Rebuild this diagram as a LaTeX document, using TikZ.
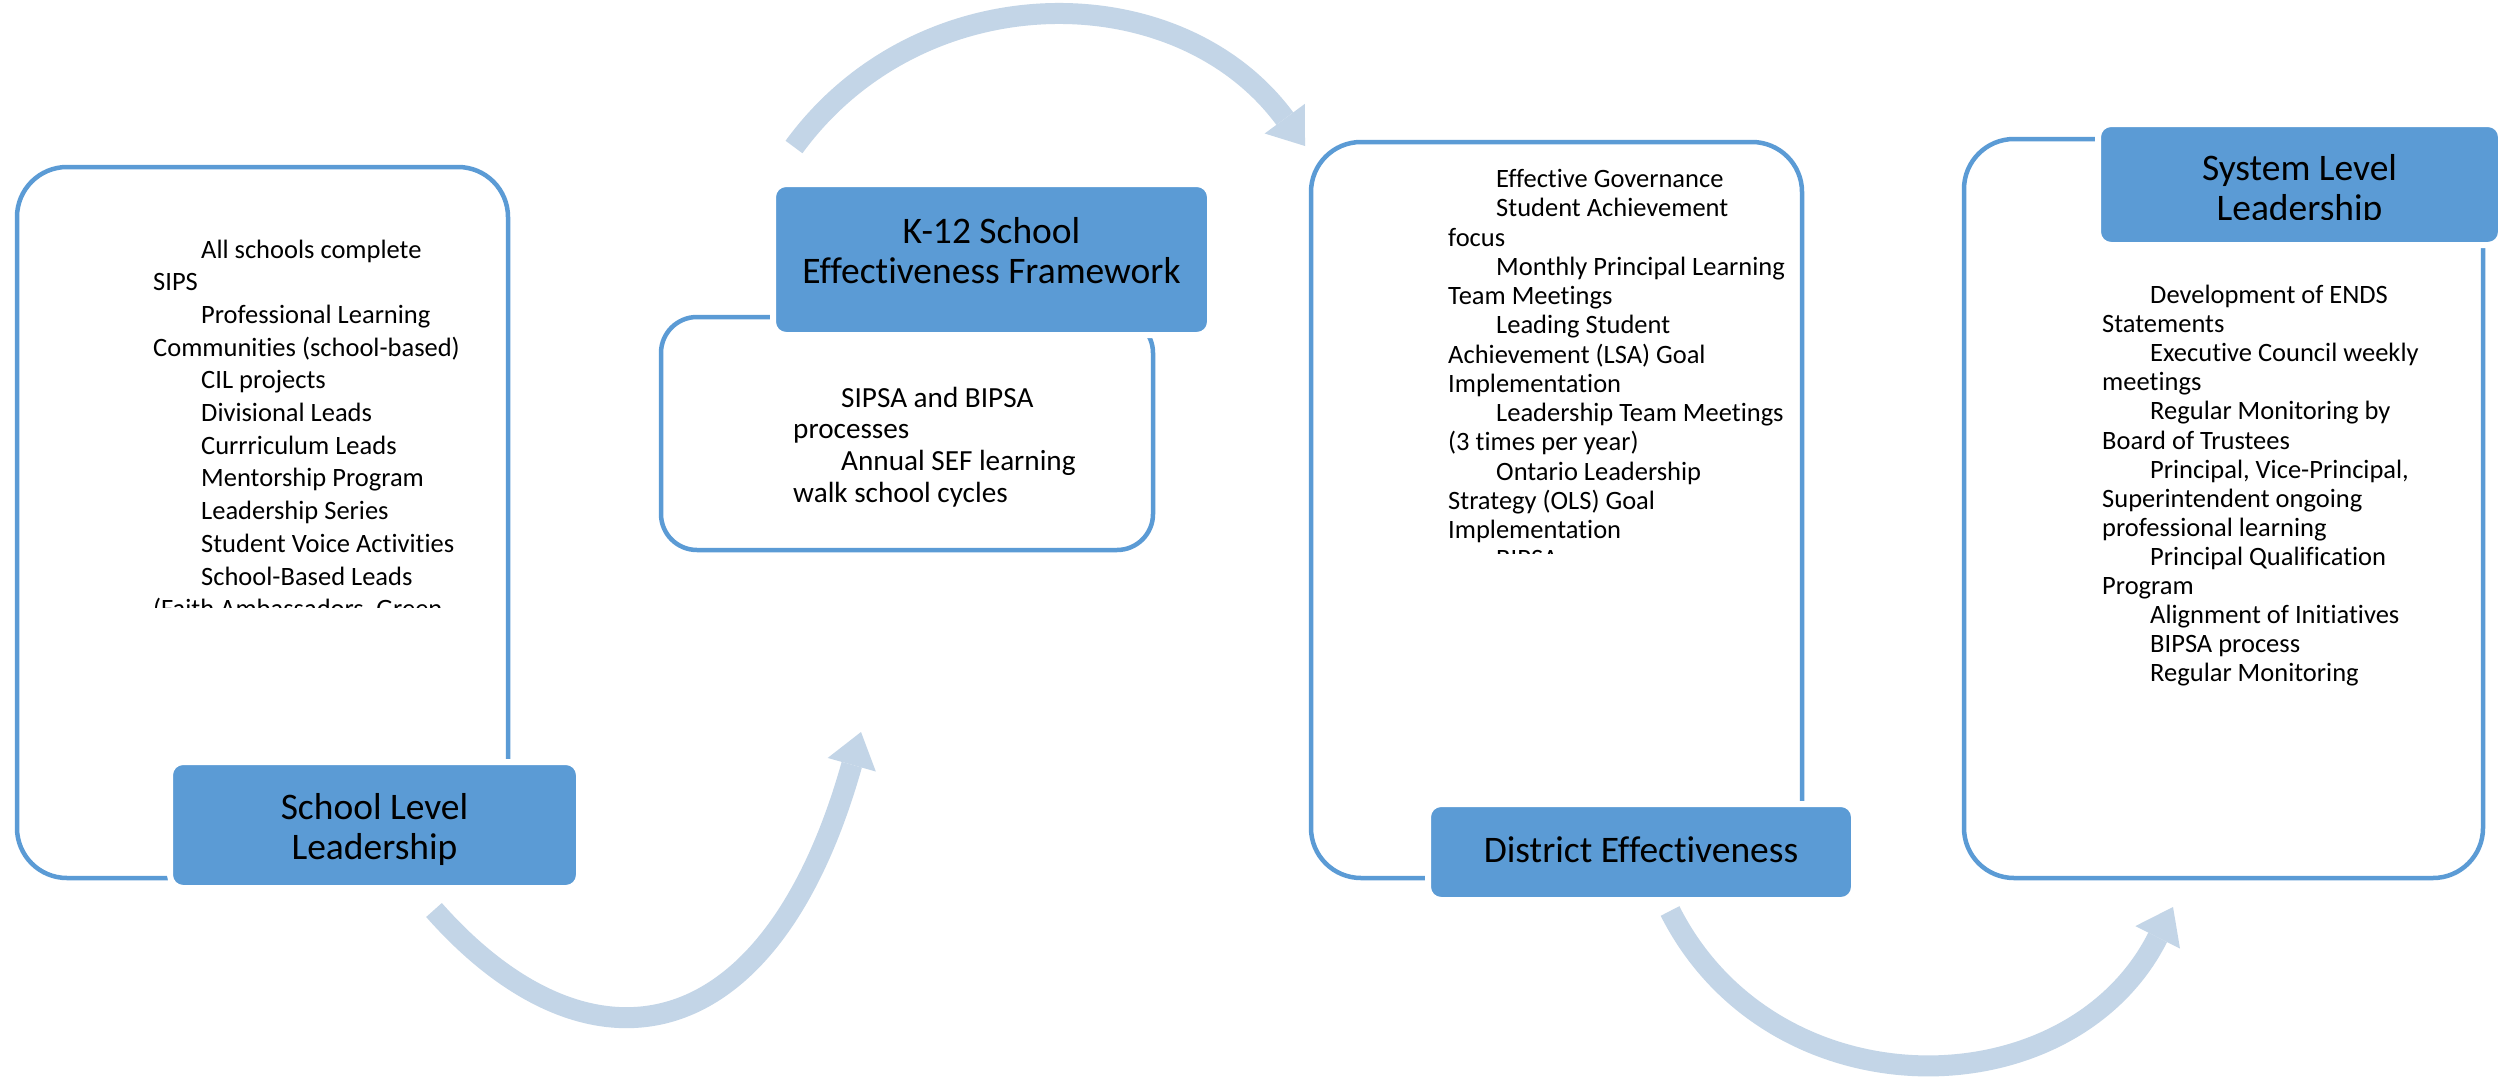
\documentclass[tikz,border=0pt]{standalone}
\usepackage{fontspec}
\setmainfont{Carlito}[Ligatures=NoCommon]
\usetikzlibrary{arrows.meta}
\definecolor{boxblue}{RGB}{91,155,213}
\definecolor{arrowblue}{RGB}{195,213,231}
\newcommand{\ind}{\hspace*{48pt}}
\begin{document}
\begin{tikzpicture}[x=1pt,y=-1pt,
  outl/.style={draw=boxblue, line width=4.5pt, rounded corners=50pt, inner sep=0pt, outer sep=0pt},
  lab/.style={fill=boxblue, draw=white, line width=6pt, rounded corners=13pt, inner sep=0pt, outer sep=0pt},
  labtxt/.style={anchor=base, inner sep=0pt, font=\fontsize{37.5}{40}\selectfont},
  bodytxt/.style={anchor=base west, inner sep=0pt},
  bigarrow/.style={draw=arrowblue, line width=21pt, -{Triangle[length=34pt,width=50pt,line width=0pt]}}
]
\fill[white] (0,0) rectangle (2508,1079);
\path[use as bounding box] (0,0) rectangle (2508,1079);

% curved arrows
\coordinate (a1s) at (794,147);
\coordinate (a1e) at (1305,146);
\coordinate (a2s) at (434,910);
\coordinate (a2e) at (861,732);
\coordinate (a3s) at (1670,911);
\coordinate (a3e) at (2173,907);
\draw[bigarrow] (a1s) .. controls (920,-26) and (1178,-26) .. (a1e);
\draw[bigarrow] (a2s) .. controls (586,1082) and (769,1058) .. (a2e);
\draw[bigarrow] (a3s) .. controls (1773,1115) and (2070,1111) .. (a3e);

% outline boxes
\node[outl, minimum width=491pt, minimum height=711pt] (o1) at (262.5,522.5) {};
\node[outl, minimum width=492pt, minimum height=233pt, rounded corners=36pt] (o2) at (907,433.5) {};
\node[outl, minimum width=491pt, minimum height=736pt] (o3) at (1556.5,510) {};
\node[outl, minimum width=519pt, minimum height=739pt] (o4) at (2223.5,508.5) {};

% label boxes
\node[lab, minimum width=409pt, minimum height=126pt] (l1) at (374.5,825) {};
\node[lab, minimum width=437pt, minimum height=151pt] (l2) at (991.5,259.5) {};
\node[lab, minimum width=426pt, minimum height=96pt] (l3) at (1641,852) {};
\node[lab, minimum width=403pt, minimum height=121pt] (l4) at (2299.5,184.5) {};

% label texts
\node[labtxt] (t1) at (374.5,819) {\parbox[t]{400pt}{\centering School Level\\Leadership}};
\node[labtxt] (t2) at (991.5,243.5) {\parbox[t]{430pt}{\centering K-12 School\\Effectiveness Framework}};
\node[labtxt] (t3) at (1641,862.5) {District Effectiveness};
\begin{scope}
\clip (2101,127) rectangle (2498,219);
\node[labtxt] (t4) at (2299.5,180.5) {\parbox[t]{400pt}{\centering System Level\\Leadership}};
\end{scope}

% body texts
\begin{scope}
\clip (140,200) rectangle (500,607);
\node[bodytxt] (b1) at (153,258) {\parbox[t]{360pt}{\fontsize{26.5}{32.7}\selectfont\raggedright
\ind All schools complete\\
SIPS\\
\ind Professional Learning\\
Communities (school-based)\\
\ind CIL projects\\
\ind Divisional Leads\\
\ind Currriculum Leads\\
\ind Mentorship Program\\
\ind Leadership Series\\
\ind Student Voice Activities\\
\ind School-Based Leads\\
(Faith Ambassadors, Green}};
\end{scope}

\node[bodytxt] (b2) at (793,407) {\parbox[t]{340pt}{\fontsize{29.2}{31.7}\selectfont\raggedright
\ind SIPSA and BIPSA\\
processes\\
\ind Annual SEF learning\\
walk school cycles}};

\begin{scope}
\clip (1330,150) rectangle (1790,553);
\node[bodytxt] (b3) at (1448,187.5) {\parbox[t]{360pt}{\fontsize{26.5}{29.25}\selectfont\raggedright
\ind Effective Governance\\
\ind Student Achievement\\
focus\\
\ind Monthly Principal Learning\\
Team Meetings\\
\ind Leading Student\\
Achievement (LSA) Goal\\
Implementation\\
\ind Leadership Team Meetings\\
(3 times per year)\\
\ind Ontario Leadership\\
Strategy (OLS) Goal\\
Implementation\\
\ind BIPSA}};
\end{scope}

\node[bodytxt] (b4) at (2102,303.5) {\parbox[t]{370pt}{\fontsize{26.5}{29.1}\selectfont\raggedright
\ind Development of ENDS\\
Statements\\
\ind Executive Council weekly\\
meetings\\
\ind Regular Monitoring by\\
Board of Trustees\\
\ind Principal, Vice-Principal,\\
Superintendent ongoing\\
professional learning\\
\ind Principal Qualification\\
Program\\
\ind Alignment of Initiatives\\
\ind BIPSA process\\
\ind Regular Monitoring}};
\end{tikzpicture}
\end{document}
